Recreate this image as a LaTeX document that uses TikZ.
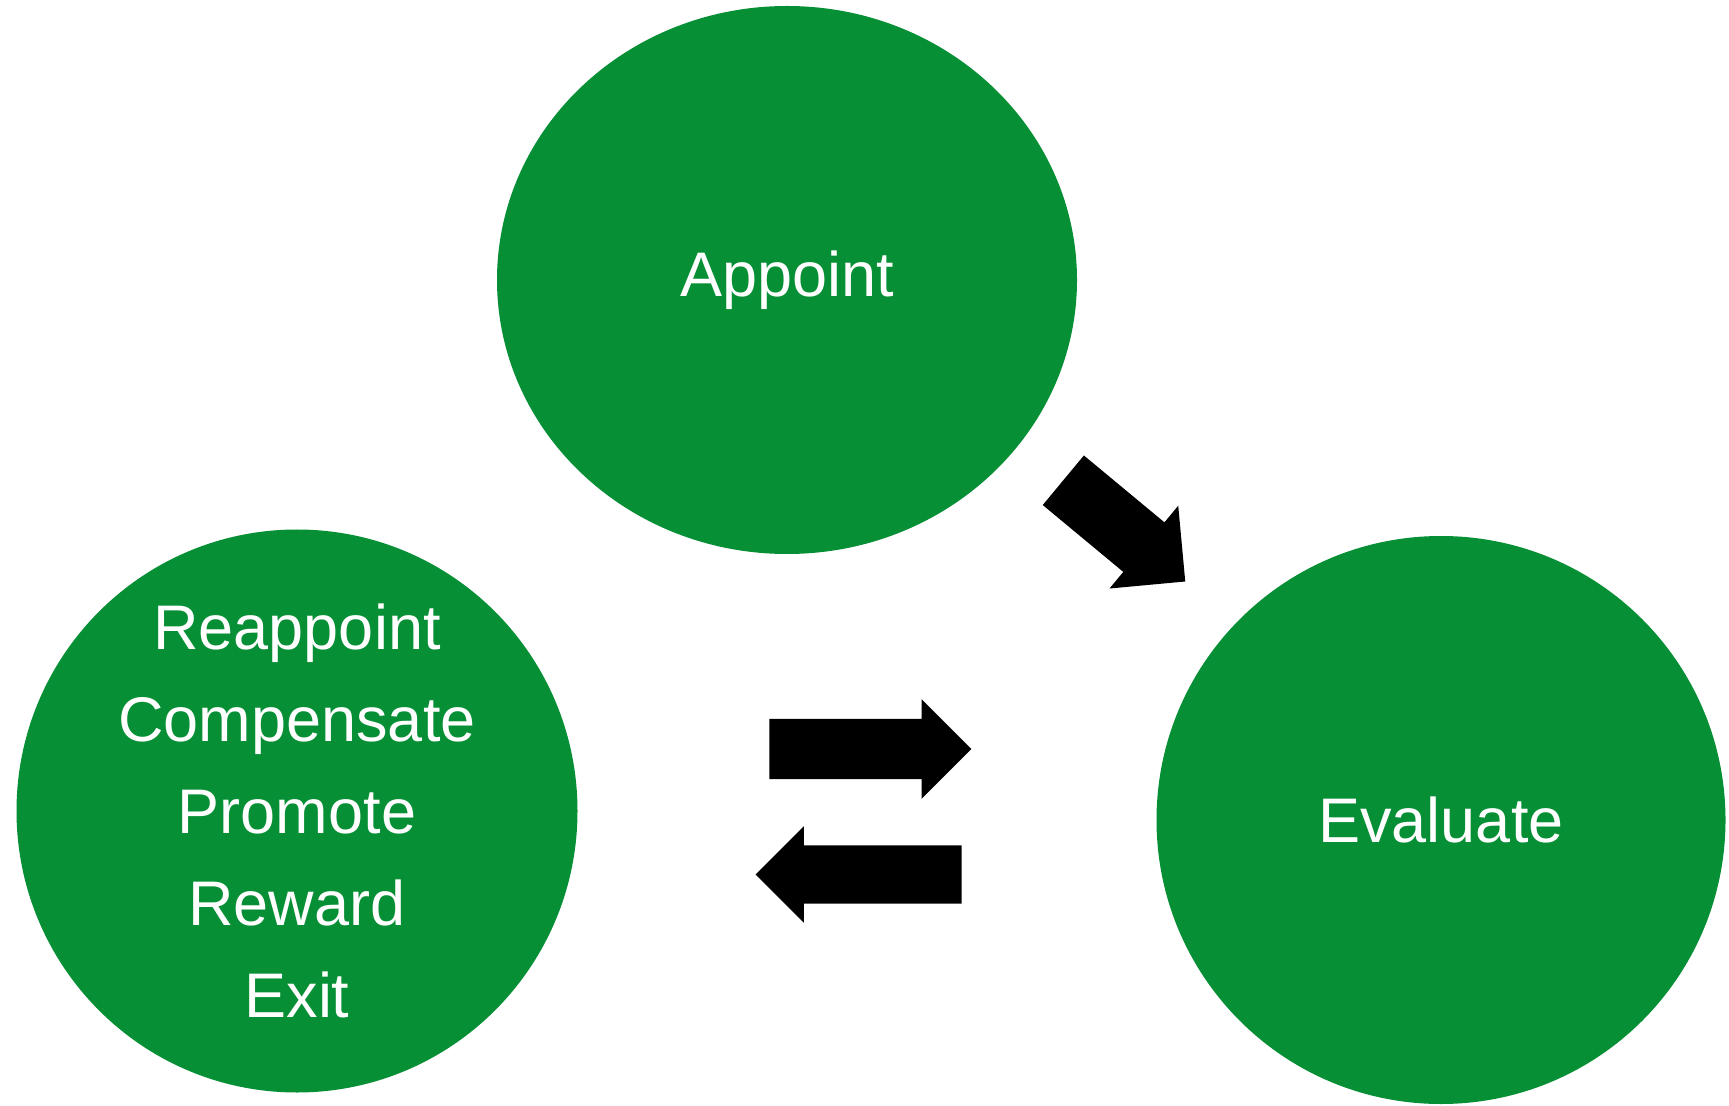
\documentclass[tikz,border=0pt]{standalone}
\usepackage{xcolor}
\usepackage{fontspec}
\setmainfont{Liberation Sans}
\usepackage{tikz}
\usetikzlibrary{shapes.geometric}
\usetikzlibrary{shapes.arrows}
\definecolor{stagegreen}{RGB}{6,143,52}
\tikzset{
    stage/.style={ellipse,fill=stagegreen,text=white,inner sep=0pt,align=center,
        font=\fontsize{31.5}{46}\selectfont},
    stagetext/.style={text=white,inner sep=0pt,align=center,
        font=\fontsize{31.5}{46}\selectfont},
    blockarrow/.style={single arrow,fill=black,inner sep=0pt,
        single arrow tip angle=90,anchor=tail}
}

\begin{document}
\begin{tikzpicture}[x=0.5pt,y=-0.5pt]
            \useasboundingbox (0,0) rectangle (1729,1106);

            \node[stage,minimum width=290pt,minimum height=274pt] (appoint) at (787,280) {Appoint};
            \node[stage,minimum width=280.5pt,minimum height=281.5pt,
                label={[stagetext]center:Reappoint\\Compensate\\Promote\\Reward\\Exit}] (reappoint) at (297,811) {};
            \node[stage,minimum width=284.5pt,minimum height=284pt] (evaluate) at (1441,820) {Evaluate};

            \node[blockarrow,inner ysep=15.9pt,minimum height=79.25pt,minimum width=53.35pt,
                single arrow head extend=10.8pt,rotate=-39.7] (toevaluate) at (1063,480) {};
            \node[blockarrow,inner ysep=14.9pt,minimum height=101pt,minimum width=49.5pt,
                single arrow head extend=9.8pt] (forward) at (769,749) {};
            \node[blockarrow,inner ysep=14.4pt,minimum height=103pt,minimum width=47.8pt,
                single arrow head extend=9.5pt,rotate=180] (backward) at (962,874.5) {};
        \end{tikzpicture}
\end{document}
